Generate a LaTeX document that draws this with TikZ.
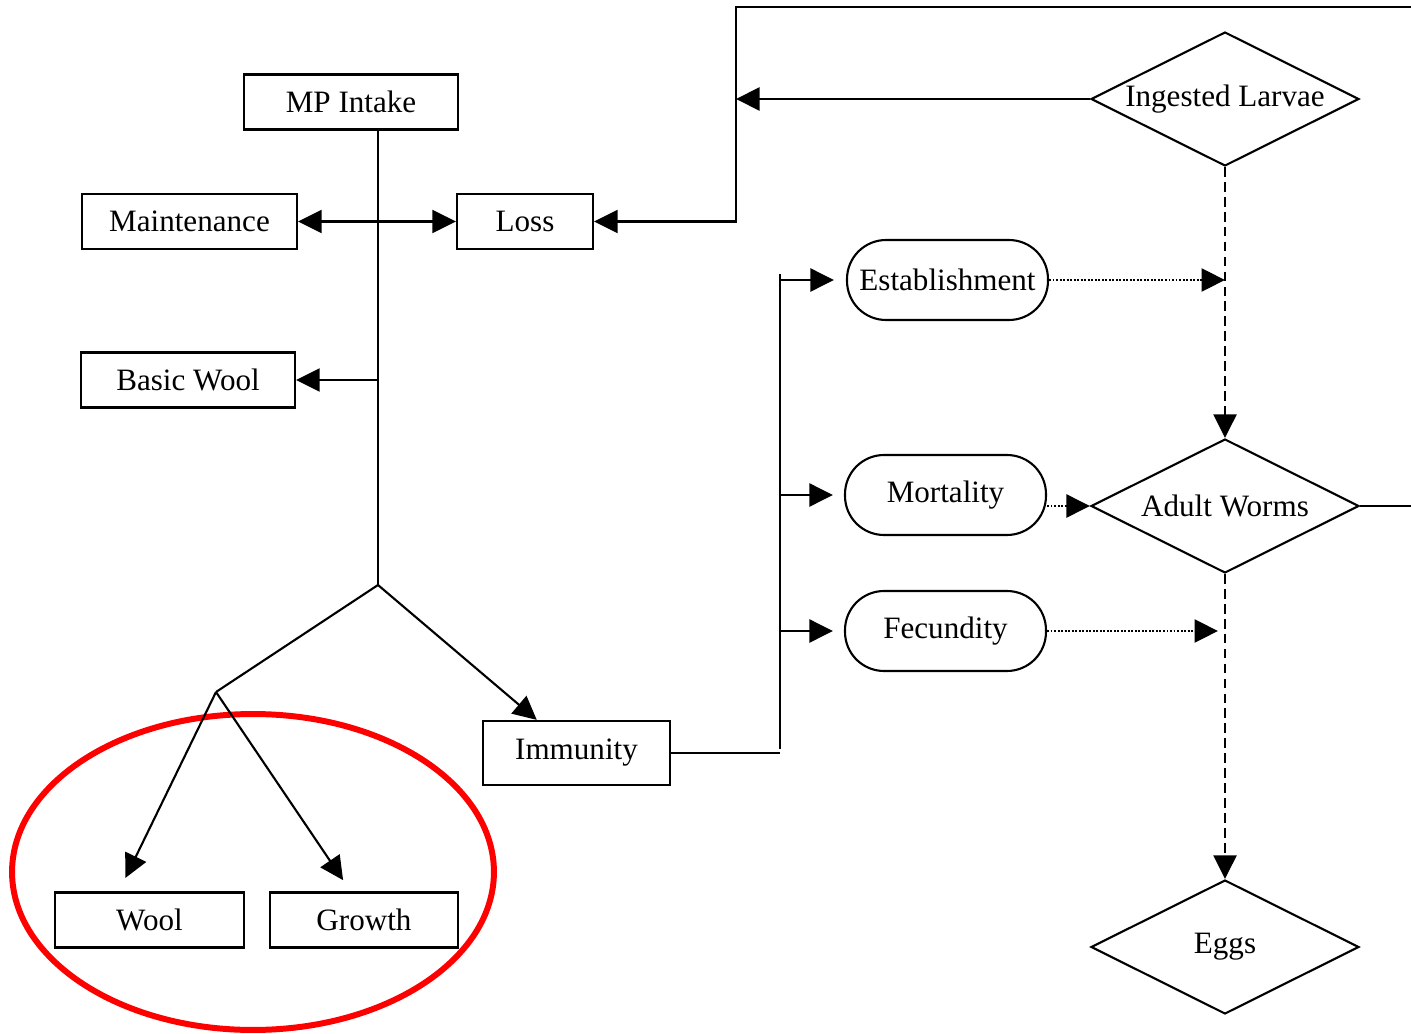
\documentclass[tikz,border=0pt]{standalone}
\usepackage{fontspec}
\setmainfont{Liberation Serif}
\usetikzlibrary{shapes.geometric,arrows.meta,calc}
\tikzset{
  BX/.style={rectangle,draw,line width=1.3pt,
             minimum height=1.1cm,inner sep=0pt,
             text centered,font=\fontsize{17.7}{21}\selectfont},
  OV/.style={rectangle,rounded corners=0.78cm,draw,line width=1.2pt,
             minimum width=4.02cm,minimum height=1.6cm,inner sep=0pt,
             text centered,font=\fontsize{17.7}{21}\selectfont},
  DM/.style={diamond,aspect=2,draw,line width=1.2pt,
             minimum width=5.36cm,minimum height=2.68cm,inner sep=0pt,
             text centered,font=\fontsize{17.7}{21}\selectfont},
  ln/.style={line width=1.2pt},
  arr/.style={-{Triangle[length=0.47cm,width=0.46cm]},line width=1.2pt},
  dbl/.style={{Triangle[length=0.47cm,width=0.46cm]}-{Triangle[length=0.47cm,width=0.46cm]},line width=1.2pt},
  dotarr/.style={arr,dash pattern=on 1.1pt off 0.9pt},
  dasharr/.style={arr,dash pattern=on 5.5pt off 3pt},
  ring/.style={ellipse,draw=red,line width=3.4pt,inner sep=0pt}
}
\begin{document}
\begin{tikzpicture}[x=0.02cm,y=-0.02cm]
  \useasboundingbox (0,0) rectangle (1411,1034);

  \node[BX,minimum width=4.28cm] (mp) at (351,102) {MP Intake};
  \node[BX,minimum width=4.3cm] (maint) at (189.5,221.5) {Maintenance};
  \node[BX,minimum width=2.72cm] (loss) at (525,221.5) {Loss};
  \node[BX,minimum width=4.28cm] (basic) at (188,380) {Basic Wool};
  \node[BX,minimum width=3.78cm] (wool) at (149.5,920) {Wool};
  \node[BX,minimum width=3.76cm] (grow) at (364,920) {Growth};
  \node[BX,minimum width=3.74cm,minimum height=1.28cm] (imm) at (576.5,753) {Immunity};

  \node[OV] (est) at (947.5,280) {Establishment};
  \node[OV] (mort) at (945.5,495) {Mortality};
  \node[OV] (fec) at (945.5,631) {Fecundity};

  \node[DM] (il) at (1225,99) {Ingested Larvae};
  \node[DM] (aw) at (1225,506) {Adult Worms};
  \node[DM] (eggs) at (1225,947) {Eggs};

  \node[ring,minimum width=9.64cm,minimum height=6.32cm] (mark) at (253,872) {};

  \coordinate (fork) at (378,585);
  \coordinate (split) at (216,692);
  \coordinate (bus) at (780,749);
  \coordinate (bustop) at (780,274);
  \coordinate (loopR) at (1411,7);
  \coordinate (loopL) at (736,7);
  \coordinate (exit) at (1411,506);

  \draw[ln](mp.south -| fork)--(fork);
  \draw[dbl](maint)--(loss);
  \draw[arr](fork |- basic)--(basic.east);
  \draw[ln](fork)--(split);
  \draw[arr](fork)--($(imm.north west)!0.29!(imm.north east)$);
  \draw[arr,shorten >=0.3cm](split)--($(wool.north west)!0.34!(wool.north east)$);
  \draw[arr,shorten >=0.27cm](split)--($(grow.north west)!0.43!(grow.north east)$);

  \draw[ln](imm.east)--(imm.east -| bus);
  \draw[ln](bustop)--(bus);
  \draw[arr,shorten >=0.24cm](bus |- est)--(est.west);
  \draw[arr,shorten >=0.22cm](bus |- mort)--(mort.west);
  \draw[arr,shorten >=0.22cm](bus |- fec)--(fec.west);

  \draw[dotarr](est.east)--(est.east -| il.south);
  \draw[dotarr](mort.east |- aw)--(aw.west);
  \draw[dotarr,shorten >=0.14cm](fec.east)--(fec.east -| aw.south);

  \draw[dasharr](il.south)--(aw.north);
  \draw[dasharr](aw.south)--(eggs.north);
  \draw[ln](aw.east)--(exit);

  \draw[arr](il.west)--(il.west -| loopL);
  \draw[arr](loopR)--(loopL)--(loopL |- loss)--(loss.east);
\end{tikzpicture}
\end{document}
